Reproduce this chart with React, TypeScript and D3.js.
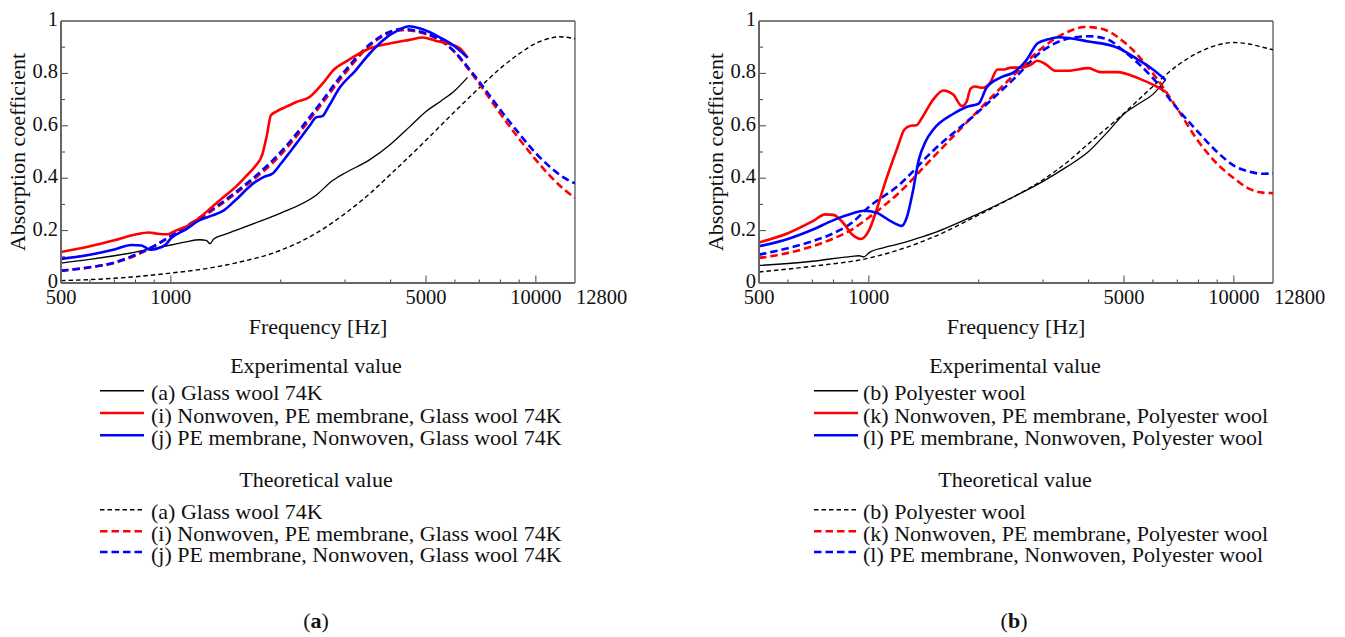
import React from "react";
import * as d3 from "d3";

type P = [number, number];

// ---------- Panel (a) data ----------
const aExp: P[] = [[500,0.076],[600,0.09],[700,0.104],[800,0.118],[900,0.132],[1000,0.145],[1100,0.157],[1200,0.165],[1250,0.163],[1280,0.15],[1310,0.168],[1400,0.185],[1500,0.2],[1750,0.235],[2000,0.267],[2500,0.335],[2780,0.392],[2850,0.402],[3000,0.42],[3500,0.47],[4000,0.53],[4500,0.595],[5000,0.655],[5500,0.695],[6000,0.735],[6500,0.785]];
const aTheo: P[] = [[500,0.009],[600,0.013],[700,0.018],[800,0.024],[1000,0.038],[1250,0.055],[1500,0.076],[2000,0.125],[2500,0.19],[3000,0.265],[3500,0.34],[4000,0.415],[5000,0.545],[6000,0.655],[7000,0.745],[8000,0.82],[9000,0.875],[10000,0.915],[11000,0.935],[11600,0.94],[12800,0.932]];
const iExp: P[] = [[500,0.118],[600,0.14],[700,0.163],[800,0.185],[870,0.193],[920,0.188],[980,0.186],[1030,0.2],[1100,0.215],[1200,0.25],[1300,0.292],[1400,0.33],[1500,0.365],[1600,0.405],[1700,0.445],[1780,0.49],[1830,0.56],[1880,0.64],[1950,0.655],[2050,0.67],[2200,0.69],[2400,0.71],[2600,0.76],[2800,0.815],[3000,0.843],[3500,0.895],[4000,0.915],[4500,0.928],[4900,0.937],[5300,0.925],[5800,0.912],[6200,0.895],[6500,0.86]];
const jExp: P[] = [[500,0.092],[600,0.108],[700,0.128],[780,0.145],[830,0.143],[880,0.127],[920,0.132],[970,0.148],[1000,0.17],[1100,0.205],[1200,0.24],[1300,0.258],[1400,0.278],[1500,0.315],[1700,0.385],[1800,0.405],[1900,0.418],[2000,0.455],[2200,0.53],[2400,0.6],[2500,0.632],[2600,0.637],[2700,0.672],[2900,0.745],[3200,0.81],[3500,0.875],[3800,0.925],[4200,0.965],[4500,0.98],[4800,0.972],[5500,0.935],[6000,0.903],[6500,0.86]];
const iTheo: P[] = [[500,0.047],[600,0.06],[700,0.077],[800,0.105],[900,0.14],[1000,0.178],[1200,0.245],[1500,0.34],[2000,0.49],[2500,0.655],[3000,0.8],[3500,0.905],[4000,0.955],[4300,0.965],[4700,0.96],[5000,0.95],[5500,0.925],[6000,0.88],[6500,0.82],[7000,0.76],[8000,0.645],[9000,0.55],[10000,0.47],[11000,0.405],[12000,0.355],[12800,0.325]];
const jTheo: P[] = [[500,0.047],[600,0.06],[700,0.078],[800,0.108],[900,0.142],[1000,0.18],[1200,0.25],[1500,0.345],[2000,0.5],[2500,0.665],[3000,0.81],[3500,0.91],[4000,0.96],[4300,0.97],[4700,0.963],[5000,0.952],[5500,0.925],[6000,0.882],[6500,0.825],[7000,0.768],[8000,0.66],[9000,0.57],[10000,0.495],[11000,0.44],[12000,0.4],[12800,0.38]];

// ---------- Panel (b) data ----------
const bExp: P[] = [[500,0.067],[700,0.083],[900,0.102],[940,0.104],[970,0.1],[1000,0.115],[1100,0.135],[1200,0.148],[1300,0.162],[1500,0.19],[2000,0.265],[2500,0.33],[3000,0.388],[3500,0.445],[4000,0.502],[4500,0.575],[5000,0.645],[5500,0.685],[6000,0.72],[6500,0.775]];
const bTheo: P[] = [[500,0.042],[700,0.064],[1000,0.095],[1500,0.175],[2000,0.26],[2500,0.33],[3000,0.394],[3500,0.462],[4000,0.532],[5000,0.648],[6000,0.75],[7000,0.83],[8000,0.88],[9000,0.908],[10000,0.918],[11000,0.912],[12000,0.9],[12800,0.89]];
const kExp: P[] = [[500,0.155],[600,0.19],[700,0.235],[760,0.262],[800,0.26],[850,0.23],[900,0.185],[950,0.168],[1000,0.2],[1050,0.28],[1100,0.37],[1200,0.52],[1250,0.585],[1300,0.6],[1350,0.602],[1400,0.632],[1500,0.7],[1600,0.735],[1700,0.72],[1800,0.675],[1850,0.69],[1900,0.742],[1950,0.75],[2050,0.745],[2150,0.765],[2250,0.815],[2350,0.815],[2450,0.822],[2600,0.822],[2750,0.83],[2900,0.848],[3050,0.835],[3250,0.81],[3500,0.81],[4000,0.82],[4300,0.805],[4800,0.805],[5500,0.78],[6000,0.757],[6500,0.73]];
const lExp: P[] = [[500,0.14],[600,0.168],[700,0.203],[800,0.24],[900,0.265],[970,0.276],[1050,0.268],[1150,0.235],[1230,0.218],[1270,0.25],[1320,0.35],[1370,0.47],[1430,0.54],[1500,0.585],[1700,0.645],[1850,0.672],[2000,0.685],[2100,0.745],[2300,0.785],[2500,0.805],[2700,0.85],[2900,0.915],[3100,0.93],[3300,0.938],[4000,0.922],[4800,0.898],[5500,0.85],[6000,0.815],[6500,0.775]];
const kTheo: P[] = [[500,0.095],[600,0.115],[700,0.14],[800,0.17],[900,0.205],[1000,0.25],[1200,0.34],[1500,0.48],[2000,0.66],[2500,0.795],[3000,0.9],[3500,0.958],[3900,0.977],[4300,0.972],[5000,0.92],[6000,0.8],[7000,0.665],[8000,0.54],[9000,0.455],[10000,0.4],[11000,0.36],[12000,0.345],[12800,0.343]];
const lTheo: P[] = [[500,0.108],[600,0.133],[700,0.159],[800,0.19],[900,0.231],[1000,0.29],[1200,0.37],[1500,0.505],[2000,0.655],[2500,0.78],[3000,0.888],[3500,0.932],[4000,0.942],[4500,0.93],[5000,0.885],[6000,0.782],[7000,0.665],[8000,0.575],[9000,0.5],[10000,0.448],[11000,0.425],[12000,0.417],[12800,0.418]];

// ---------- axis ticks & labels ----------
const xMajorTicks = [1000, 5000, 10000];
const xMinorTicks = [600, 700, 800, 900, 2000, 3000, 4000, 6000, 7000, 8000, 9000];
const xTickLabels = [500, 1000, 5000, 10000];
const xEndLabel = "12800";
const yTickLabels = [0, 0.2, 0.4, 0.6, 0.8, 1];
const yMinorTicks = [0.1, 0.3, 0.5, 0.7, 0.9];

const legendA = {
  exp: ["(a) Glass wool 74K", "(i) Nonwoven, PE membrane, Glass wool 74K", "(j) PE membrane, Nonwoven, Glass wool 74K"],
  theo: ["(a) Glass wool 74K", "(i) Nonwoven, PE membrane, Glass wool 74K", "(j) PE membrane, Nonwoven, Glass wool 74K"],
};
const legendB = {
  exp: ["(b) Polyester wool", "(k) Nonwoven, PE membrane, Polyester wool", "(l) PE membrane, Nonwoven, Polyester wool"],
  theo: ["(b) Polyester wool", "(k) Nonwoven, PE membrane, Polyester wool", "(l) PE membrane, Nonwoven, Polyester wool"],
};

const FONT = "'Liberation Serif', 'Times New Roman', serif";
const TOP = 21, BOTTOM = 283;

type Style = { color: string; width: number; dash?: string };
const styles: Style[] = [
  { color: "#000", width: 1.3 },
  { color: "#ff0000", width: 2.6 },
  { color: "#0000ff", width: 2.6 },
  { color: "#000", width: 1.4, dash: "4.5,3" },
  { color: "#ff0000", width: 2.6, dash: "7.5,4" },
  { color: "#0000ff", width: 2.6, dash: "7.5,4" },
];

function Panel({ left, right, series, legend, legLineX, legTextX, headerX, sub }: {
  left: number; right: number; series: P[][]; legend: { exp: string[]; theo: string[] };
  legLineX: number; legTextX: number; headerX: number; sub: string;
}) {
  const x = d3.scaleLog().domain([500, 12800]).range([left, right]);
  const y = d3.scaleLinear().domain([0, 1]).range([BOTTOM, TOP]);
  const line = d3.line<P>().x((d) => x(d[0])).y((d) => y(d[1])).curve(d3.curveMonotoneX);
  const clipId = `clip-${left}`;
  const order = [3, 0, 4, 5, 1, 2];
  const expRows = [392.7, 415, 437.3];
  const theoRows = [511.7, 533.3, 554];
  return (
    <g>
      <defs>
        <clipPath id={clipId}>
          <rect x={left} y={TOP} width={right - left} height={BOTTOM - TOP} />
        </clipPath>
      </defs>
      <line x1={left} x2={right} y1={TOP} y2={TOP} stroke="#000" strokeWidth={1.2} />
      <line x1={right} x2={right} y1={TOP} y2={BOTTOM} stroke="#666" strokeWidth={1.4} />
      {xMinorTicks.map((t) => (
        <line key={"xm" + t} x1={x(t)} x2={x(t)} y1={BOTTOM} y2={BOTTOM - 3.5} stroke="#444" strokeWidth={1} />
      ))}
      {xMajorTicks.map((t) => (
        <line key={"xM" + t} x1={x(t)} x2={x(t)} y1={BOTTOM} y2={BOTTOM - 7.5} stroke="#444" strokeWidth={1} />
      ))}
      {yMinorTicks.map((t) => (
        <line key={"ym" + t} x1={left} x2={left + 4} y1={y(t)} y2={y(t)} stroke="#444" strokeWidth={1} />
      ))}
      {yTickLabels.slice(1, -1).map((t) => (
        <line key={"yM" + t} x1={left} x2={left + 7} y1={y(t)} y2={y(t)} stroke="#444" strokeWidth={1} />
      ))}
      <g clipPath={`url(#${clipId})`}>
        {order.map((i) => (
          <path key={i} d={line(series[i]) || ""} fill="none" stroke={styles[i].color}
            strokeWidth={styles[i].width} strokeDasharray={styles[i].dash} strokeLinejoin="round" />
        ))}
      </g>
      <line x1={left} x2={left} y1={TOP} y2={BOTTOM} stroke="#666" strokeWidth={2} />
      <line x1={left} x2={right} y1={BOTTOM} y2={BOTTOM} stroke="#666" strokeWidth={2} />
      <g fontFamily={FONT} fontSize={20.5} fill="#111">
        {yTickLabels.map((t) => (
          <text key={"yl" + t} x={left - 3} y={y(t) - 2} textAnchor="end" dominantBaseline="central">{String(t)}</text>
        ))}
        {xTickLabels.map((t) => (
          <text key={"xl" + t} x={x(t)} y={304} textAnchor="middle">{String(t)}</text>
        ))}
        <text x={right + 1} y={304} textAnchor="start">{xEndLabel}</text>
      </g>
      <g fontFamily={FONT} fontSize={22} fill="#111">
        <text x={(left + right) / 2} y={326} textAnchor="middle" dominantBaseline="central">Frequency [Hz]</text>
        <text transform={`translate(${left - 44},${(TOP + BOTTOM) / 2}) rotate(-90)`} textAnchor="middle" dominantBaseline="central">Absorption coefficient</text>
      </g>
      <g fontFamily={FONT} fontSize={22} fill="#111">
        <text x={headerX} y={365} textAnchor="middle" dominantBaseline="central">Experimental value</text>
        <text x={headerX} y={479.3} textAnchor="middle" dominantBaseline="central">Theoretical value</text>
        {legend.exp.map((s, i) => (
          <g key={"le" + i}>
            <line x1={legLineX} x2={legLineX + 44} y1={expRows[i] - 2} y2={expRows[i] - 2}
              stroke={styles[i].color} strokeWidth={i === 0 ? 1.4 : 2.6} />
            <text x={legTextX} y={expRows[i]} dominantBaseline="central">{s}</text>
          </g>
        ))}
        {legend.theo.map((s, i) => (
          <g key={"lt" + i}>
            <line x1={legLineX} x2={legLineX + 44} y1={theoRows[i] - 2} y2={theoRows[i] - 2}
              stroke={styles[i + 3].color} strokeWidth={i === 0 ? 1.4 : 2.6} strokeDasharray={styles[i + 3].dash} />
            <text x={legTextX} y={theoRows[i]} dominantBaseline="central">{s}</text>
          </g>
        ))}
      </g>
      <text x={(left + right) / 2 - 2} y={620} textAnchor="middle" dominantBaseline="central" fontFamily={FONT} fontSize={22} fill="#111">
        (<tspan fontWeight="bold">{sub}</tspan>)
      </text>
    </g>
  );
}

export default function App() {
  return (
    <svg width={1345} height={637} style={{ position: "absolute", left: 0, top: 0, background: "#fff" }}>
      <rect width={1345} height={637} fill="#fff" />
      <Panel left={61} right={575} series={[aExp, iExp, jExp, aTheo, iTheo, jTheo]} legend={legendA}
        legLineX={100} legTextX={151} headerX={316} sub="a" />
      <Panel left={759} right={1273} series={[bExp, kExp, lExp, bTheo, kTheo, lTheo]} legend={legendB}
        legLineX={814} legTextX={863} headerX={1015} sub="b" />
    </svg>
  );
}
